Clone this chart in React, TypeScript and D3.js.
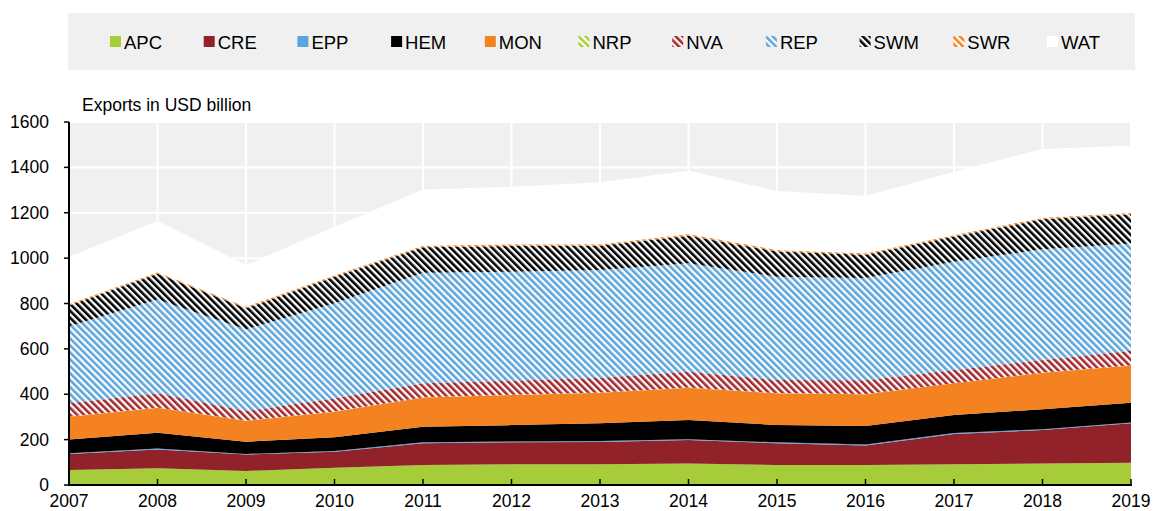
import React from 'react';
import * as d3 from 'd3';

const years = [2007, 2008, 2009, 2010, 2011, 2012, 2013, 2014, 2015, 2016, 2017, 2018, 2019];
const APC = [66, 74, 62, 76, 88, 91, 91, 95, 88, 88, 91, 95, 98];
const CRE = [71, 83, 72, 71, 96, 97, 99, 103, 96, 86, 134, 147, 174];
const EPP = [3, 4, 3, 3, 4, 4, 4, 4, 4, 4, 4, 4, 4];
const HEM = [61, 69, 54, 60, 69, 72, 78, 84, 76, 82, 79, 88, 87];
const MON = [100, 111, 92, 113, 129, 133, 135, 143, 140, 140, 140, 161, 164];
const NRP = [1, 1, 1, 1, 1, 1, 1, 1, 1, 1, 1, 1, 1];
const NVA = [58, 62, 42, 58, 61, 62, 65, 69, 58, 61, 58, 55, 64];
const REP = [340, 414, 360, 419, 488, 480, 475, 478, 455, 450, 477, 488, 473];
const SWM = [91, 113, 93, 117, 112, 114, 106, 122, 111, 103, 111, 132, 128];
const SWR = [7, 7, 7, 7, 7, 7, 7, 7, 7, 7, 7, 7, 7];
const WAT = [207, 227, 184, 213, 248, 254, 273, 279, 260, 253, 278, 303, 296];

const seriesNames = ['APC', 'CRE', 'EPP', 'HEM', 'MON', 'NRP', 'NVA', 'REP', 'SWM', 'SWR', 'WAT'];
const seriesValues = [APC, CRE, EPP, HEM, MON, NRP, NVA, REP, SWM, SWR, WAT];
const seriesColors = ['#a6cd39', '#922229', '#5ba4dc', '#000000', '#f58220', '#a6cd39', '#a3282e', '#5ba4dc', '#000000', '#f58220', '#ffffff'];
const seriesHatched = [false, false, false, false, false, true, true, true, true, true, false];
const yTicks = [0, 200, 400, 600, 800, 1000, 1200, 1400, 1600];
const yTitle = 'Exports in USD billion';

const W = 1153;
const H = 511;
const L = 69, R = 1131, T = 122, B = 485;
const FONT = '"Liberation Sans", Arial, sans-serif';

export default function App() {
  const x = d3.scaleLinear().domain([2007, 2019]).range([L, R]);
  const y = d3.scaleLinear().domain([0, 1600]).range([B, T]);
  const rows = years.map((yr, i) => {
    const r: any = { year: yr };
    seriesNames.forEach((k, j) => (r[k] = seriesValues[j][i]));
    return r;
  });
  const stacked = d3.stack<any>().keys(seriesNames)(rows);
  const area = d3
    .area<any>()
    .x((d) => x(d.data.year))
    .y0((d) => y(d[0]))
    .y1((d) => y(d[1]));

  const fillFor = (i: number) => (seriesHatched[i] ? `url(#hatch-${seriesNames[i]})` : seriesColors[i]);
  const P = 4.9;

  return (
    <svg width={W} height={H} style={{ position: 'absolute', left: 0, top: 0 }} fontFamily={FONT}>
      <defs>
        {seriesNames.map((k, i) =>
          seriesHatched[i] ? (
            <pattern key={k} id={`hatch-${k}`} width={P} height={P} patternUnits="userSpaceOnUse" patternTransform="rotate(-45)">
              <rect width={P} height={P} fill="#ffffff" fillOpacity={0.85} />
              <rect width={P * 0.52} height={P} fill={seriesColors[i]} />
            </pattern>
          ) : null
        )}
      </defs>
      <rect x={0} y={0} width={W} height={H} fill="#ffffff" />
      {/* legend */}
      <rect x={68} y={13} width={1067} height={57} fill="#f0f0f0" />
      {seriesNames.map((k, i) => {
        const lx = 110 + i * 93.7;
        return (
          <g key={k}>
            <rect x={lx} y={36} width={11} height={11} fill={fillFor(i)} />
            <text x={lx + 14} y={48.5} fontSize={18.5} fill="#000">{k}</text>
          </g>
        );
      })}
      {/* plot background */}
      <rect x={L} y={T} width={R - L} height={B - T} fill="#f0f0f0" />
      {yTicks.map((t) => (
        <line key={'gy' + t} x1={L} x2={R} y1={y(t)} y2={y(t)} stroke="#ffffff" strokeWidth={2} />
      ))}
      {years.map((yr) => (
        <line key={'gx' + yr} x1={x(yr)} x2={x(yr)} y1={T} y2={B} stroke="#ffffff" strokeWidth={2} />
      ))}
      {stacked.map((s, i) => (
        <path key={s.key} d={area(s) || ''} fill={fillFor(i)} />
      ))}
      {/* axes */}
      <line x1={L} x2={L} y1={T} y2={B} stroke="#000" strokeWidth={2} />
      <line x1={L - 1} x2={R + 1} y1={B} y2={B} stroke="#000" strokeWidth={2} />
      {yTicks.map((t) => (
        <g key={'ty' + t}>
          <line x1={L - 5} x2={L} y1={y(t)} y2={y(t)} stroke="#000" strokeWidth={1.5} />
          <text x={49} y={y(t) + 6} fontSize={17.5} textAnchor="end" fill="#000">{t}</text>
        </g>
      ))}
      {years.map((yr) => (
        <g key={'tx' + yr}>
          <line x1={x(yr)} x2={x(yr)} y1={B - 6} y2={B} stroke="#000" strokeWidth={1.5} />
          <text x={x(yr)} y={507} fontSize={17.5} textAnchor="middle" fill="#000">{yr}</text>
        </g>
      ))}
      <text x={82} y={111} fontSize={17.5} fill="#000">{yTitle}</text>
    </svg>
  );
}
